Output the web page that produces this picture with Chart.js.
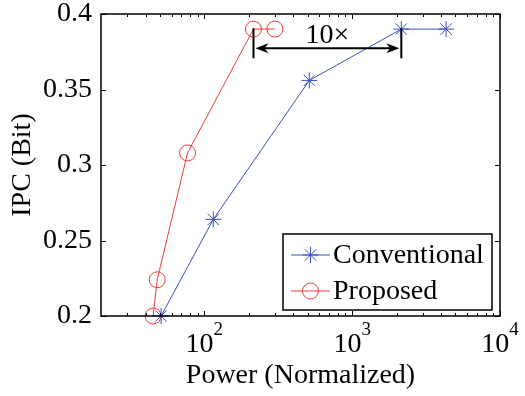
<!DOCTYPE html>
<html>
<head>
<meta charset="utf-8">
<script src="https://cdn.jsdelivr.net/npm/chart.js@4.4.1/dist/chart.umd.min.js"></script>
<style>
    html, body { margin: 0; padding: 0; background: #fff; }
    #wrap { width: 525px; height: 396px; }
</style>
</head>
<body>
<div id="wrap"><canvas id="ipcChart"></canvas></div>
<script>
// Values
const seriesNames = ['Conventional', 'Proposed'];
const conventionalPower = [51, 115, 513, 2150, 4320];
const conventionalIpc = [0.2, 0.264, 0.356, 0.39, 0.39];
const proposedPower = [45, 48, 77, 215, 300];
const proposedIpc = [0.2, 0.224, 0.308, 0.39, 0.39];

const yTicks = [0.2, 0.25, 0.3, 0.35, 0.4];
const xMajorTicks = [100, 1000, 10000];
const xTickExponents = ['2', '3', '4'];
const xMinorTicks = [30, 40, 50, 60, 70, 80, 90,
    200, 300, 400, 500, 600, 700, 800, 900,
    2000, 3000, 4000, 5000, 6000, 7000, 8000, 9000];

// the "10x" gap bracket
const gapPower = [215, 2150];
const gapBarIpc = [0.3707, 0.3905];
const gapArrowIpc = 0.3773;
const gapLabel = '10\u00d7';
const gapLabelIpc = 0.3806;

const FONT = "'Liberation Serif', 'DejaVu Serif', serif";
const BLUE = '#3b4fc4';
const RED = '#ef3b3b';

function toPoints(xs, ys) {
    return xs.map((v, i) => ({ x: v, y: ys[i] }));
}

function arrowHead(ctx, tipX, y, dir) {
    // dir = +1 points left (body to the right), -1 points right
    const len = 13, half = 5;
    ctx.beginPath();
    ctx.moveTo(tipX, y);
    ctx.lineTo(tipX + dir * len, y - half);
    ctx.lineTo(tipX + dir * len * 0.7, y);
    ctx.lineTo(tipX + dir * len, y + half);
    ctx.closePath();
    ctx.fill();
}

const matlabAxes = {
    id: 'matlabAxes',
    beforeDraw(chart) {
        const ctx = chart.ctx;
        ctx.save();
        ctx.fillStyle = '#fff';
        ctx.fillRect(0, 0, chart.width, chart.height);
        ctx.restore();
    },
    afterDraw(chart) {
        const { ctx, chartArea: a } = chart;
        const x = chart.scales.x, y = chart.scales.y;
        ctx.save();

        // inward tick marks on all four sides
        ctx.strokeStyle = '#000';
        ctx.lineWidth = 1;
        ctx.beginPath();
        xMinorTicks.forEach(v => {
            const px = Math.round(x.getPixelForValue(v)) + 0.5;
            ctx.moveTo(px, a.bottom); ctx.lineTo(px, a.bottom - 3);
            ctx.moveTo(px, a.top); ctx.lineTo(px, a.top + 3);
        });
        xMajorTicks.forEach(v => {
            const px = Math.round(x.getPixelForValue(v)) + 0.5;
            ctx.moveTo(px, a.bottom); ctx.lineTo(px, a.bottom - 5);
            ctx.moveTo(px, a.top); ctx.lineTo(px, a.top + 5);
        });
        yTicks.forEach(v => {
            const py = Math.round(y.getPixelForValue(v)) + 0.5;
            ctx.moveTo(a.left, py); ctx.lineTo(a.left + 5, py);
            ctx.moveTo(a.right, py); ctx.lineTo(a.right - 5, py);
        });
        ctx.stroke();

        // box
        ctx.lineWidth = 1.5;
        ctx.strokeRect(a.left, a.top, a.right - a.left, a.bottom - a.top);

        // x tick labels as 10 with superscript exponent
        ctx.fillStyle = '#000';
        ctx.textBaseline = 'alphabetic';
        ctx.textAlign = 'left';
        xMajorTicks.forEach((v, i) => {
            const px = x.getPixelForValue(v);
            ctx.font = '28px ' + FONT;
            const wBase = ctx.measureText('10').width;
            ctx.font = '19px ' + FONT;
            const wExp = ctx.measureText(xTickExponents[i]).width;
            const start = px - (wBase + wExp) / 2;
            ctx.font = '28px ' + FONT;
            ctx.fillText('10', start, a.bottom + 35.5);
            ctx.font = '19px ' + FONT;
            ctx.fillText(xTickExponents[i], start + wBase, a.bottom + 19);
        });

        // gap bracket with double arrow
        const gx0 = x.getPixelForValue(gapPower[0]);
        const gx1 = x.getPixelForValue(gapPower[1]);
        const by0 = y.getPixelForValue(gapBarIpc[0]);
        const by1 = y.getPixelForValue(gapBarIpc[1]);
        const ay = y.getPixelForValue(gapArrowIpc);
        ctx.strokeStyle = '#000';
        ctx.lineWidth = 2;
        ctx.beginPath();
        ctx.moveTo(gx0, by0); ctx.lineTo(gx0, by1);
        ctx.moveTo(gx1, by0); ctx.lineTo(gx1, by1);
        ctx.moveTo(gx0 + 10, ay); ctx.lineTo(gx1 - 10, ay);
        ctx.stroke();
        ctx.fillStyle = '#000';
        arrowHead(ctx, gx0 + 2, ay, 1);
        arrowHead(ctx, gx1 - 2, ay, -1);
        ctx.font = '28px ' + FONT;
        ctx.textAlign = 'center';
        ctx.fillText(gapLabel, x.getPixelForValue(Math.sqrt(gapPower[0] * gapPower[1])),
            y.getPixelForValue(gapLabelIpc));

        // legend box in the lower right corner
        const lx = a.left + 182, ly = a.top + 220, lw = 209, lh = 76;
        ctx.fillStyle = '#fff';
        ctx.fillRect(lx, ly, lw, lh);
        ctx.lineWidth = 1.5;
        ctx.strokeStyle = '#000';
        ctx.strokeRect(lx, ly, lw, lh);
        chart.data.datasets.forEach((ds, i) => {
            const rowY = ly + 21 + i * 36;
            ctx.strokeStyle = ds.borderColor;
            ctx.lineWidth = 1;
            ctx.beginPath();
            ctx.moveTo(lx + 8, rowY); ctx.lineTo(lx + 47, rowY);
            ctx.stroke();
            ctx.fillStyle = 'rgba(0,0,0,0)';
            Chart.helpers.drawPoint(ctx, {
                pointStyle: ds.pointStyle, radius: ds.pointRadius,
                borderWidth: ds.pointBorderWidth, rotation: 0
            }, lx + 27.5, rowY);
            ctx.fillStyle = '#000';
            ctx.font = '28px ' + FONT;
            ctx.textAlign = 'left';
            ctx.textBaseline = 'middle';
            ctx.fillText(ds.label, lx + 50, rowY + 1);
        });
        ctx.restore();
    }
};

const ctx = document.getElementById('ipcChart').getContext('2d');
new Chart(ctx, {
    type: 'scatter',
    data: {
        datasets: [{
            label: seriesNames[0],
            data: toPoints(conventionalPower, conventionalIpc),
            showLine: true,
            borderColor: BLUE,
            borderWidth: 1,
            pointStyle: 'star',
            pointRadius: 8,
            pointBorderWidth: 1,
            pointBorderColor: BLUE,
            pointBackgroundColor: 'rgba(0,0,0,0)',
            clip: false
        }, {
            label: seriesNames[1],
            data: toPoints(proposedPower, proposedIpc),
            showLine: true,
            borderColor: RED,
            borderWidth: 1,
            pointStyle: 'circle',
            pointRadius: 8,
            pointBorderWidth: 1,
            pointBorderColor: RED,
            pointBackgroundColor: 'rgba(0,0,0,0)',
            clip: false
        }]
    },
    options: {
        responsive: true,
        maintainAspectRatio: false,
        animation: false,
        devicePixelRatio: 1,
        layout: {
            padding: { top: 14, right: 25, left: 0, bottom: 0 }
        },
        plugins: {
            legend: { display: false },
            tooltip: { enabled: false }
        },
        elements: {
            line: { tension: 0 },
            point: { hoverRadius: 8 }
        },
        scales: {
            x: {
                type: 'logarithmic',
                min: 20,
                max: 10000,
                grid: { display: false, drawTicks: false },
                border: { display: false },
                ticks: { display: false },
                title: {
                    display: true,
                    text: 'Power (Normalized)',
                    color: '#000',
                    font: { family: FONT, size: 28, lineHeight: 1.2 },
                    padding: { top: 0, bottom: 4 }
                },
                afterFit(scale) {
                    scale.height = 80;
                    scale.paddingLeft = 0;
                    scale.paddingRight = 0;
                }
            },
            y: {
                min: 0.2,
                max: 0.4,
                grid: { display: false, drawTicks: false },
                border: { display: false },
                afterBuildTicks(scale) {
                    scale.ticks = yTicks.map(v => ({ value: v }));
                },
                ticks: {
                    color: '#000',
                    padding: 9,
                    font: { family: FONT, size: 28 },
                    callback: v => String(+v.toFixed(2))
                },
                title: {
                    display: true,
                    text: 'IPC (Bit)',
                    color: '#000',
                    font: { family: FONT, size: 28, lineHeight: 1.2 },
                    padding: { top: 6, bottom: 0 }
                },
                afterFit(scale) {
                    scale.width = 101;
                    scale.paddingTop = 0;
                    scale.paddingBottom = 0;
                }
            }
        }
    },
    plugins: [matlabAxes]
});
</script>
</body>
</html>
